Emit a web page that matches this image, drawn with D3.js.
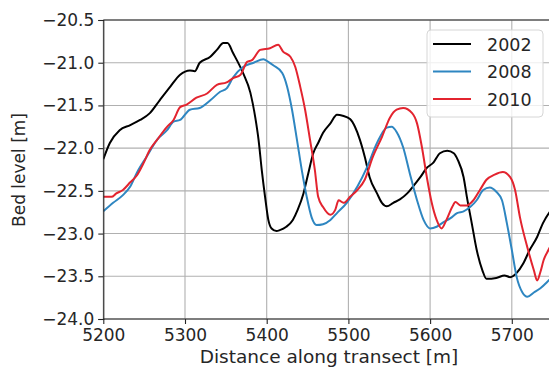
<!DOCTYPE html>
<html>
<head>
<meta charset="utf-8">
<script src="https://cdn.jsdelivr.net/npm/d3@7"></script>
<style>
  body { margin: 0; background: #fff; }
  text { font-family: "DejaVu Sans", sans-serif; fill: #262626; }
</style>
</head>
<body>
<svg class="BedChart" width="549" height="369"></svg>
<script>
// distance along transect [m] and bed level [m]
var dist2002 = [5200, 5208, 5220, 5233, 5245, 5257, 5269, 5282, 5294, 5306, 5312, 5318, 5331, 5339, 5347, 5352, 5359, 5371, 5380, 5386, 5390, 5394, 5398, 5402, 5406, 5412, 5416, 5424, 5432, 5438, 5445, 5451, 5457, 5463, 5469, 5478, 5486, 5493, 5502, 5508, 5514, 5520, 5526, 5535, 5541, 5547, 5555, 5563, 5572, 5579, 5588, 5596, 5604, 5612, 5621, 5629, 5634, 5641, 5645, 5651, 5657, 5664, 5669, 5681, 5691, 5698, 5706, 5714, 5722, 5731, 5738, 5750];
var bed2002 = [-22.13, -21.94, -21.79, -21.73, -21.67, -21.59, -21.44, -21.28, -21.14, -21.09, -21.1, -21.0, -20.93, -20.85, -20.77, -20.77, -20.89, -21.12, -21.35, -21.64, -21.9, -22.26, -22.57, -22.84, -22.94, -22.97, -22.96, -22.92, -22.84, -22.72, -22.53, -22.29, -22.06, -21.94, -21.82, -21.71, -21.61, -21.62, -21.66, -21.75, -21.9, -22.1, -22.34, -22.53, -22.64, -22.68, -22.64, -22.6, -22.53, -22.45, -22.34, -22.23, -22.17, -22.06, -22.03, -22.06, -22.14, -22.34, -22.57, -22.88, -23.19, -23.43, -23.53, -23.52, -23.49, -23.51, -23.46, -23.35, -23.19, -23.04, -22.88, -22.7];

var dist2008 = [5200, 5212, 5224, 5233, 5241, 5253, 5266, 5278, 5286, 5294, 5306, 5318, 5331, 5343, 5351, 5359, 5371, 5384, 5396, 5402, 5408, 5419, 5425, 5431, 5437, 5443, 5449, 5455, 5461, 5469, 5478, 5486, 5498, 5511, 5523, 5535, 5547, 5553, 5559, 5567, 5575, 5584, 5592, 5600, 5608, 5616, 5625, 5633, 5641, 5649, 5657, 5665, 5673, 5681, 5688, 5694, 5700, 5706, 5713, 5719, 5727, 5735, 5743, 5750];
var bed2008 = [-22.74, -22.64, -22.55, -22.45, -22.29, -22.1, -21.9, -21.79, -21.69, -21.67, -21.55, -21.53, -21.44, -21.34, -21.3, -21.17, -21.05, -21.0, -20.96, -20.99, -21.03, -21.12, -21.28, -21.55, -21.9, -22.26, -22.57, -22.81, -22.9, -22.89, -22.84, -22.76, -22.64, -22.45, -22.22, -21.94, -21.76, -21.75, -21.81, -21.99, -22.29, -22.61, -22.84, -22.94, -22.92, -22.87, -22.82, -22.76, -22.74, -22.69, -22.61, -22.49, -22.46, -22.51, -22.61, -22.88, -23.19, -23.51, -23.69, -23.74, -23.69, -23.64, -23.57, -23.5];

var dist2010 = [5200, 5210, 5216, 5224, 5233, 5241, 5249, 5257, 5266, 5278, 5286, 5294, 5302, 5314, 5327, 5339, 5351, 5359, 5368, 5376, 5382, 5392, 5404, 5414, 5420, 5429, 5435, 5441, 5447, 5453, 5459, 5463, 5469, 5478, 5484, 5488, 5494, 5502, 5511, 5520, 5530, 5541, 5551, 5559, 5567, 5578, 5584, 5590, 5596, 5602, 5608, 5614, 5620, 5627, 5631, 5637, 5645, 5653, 5661, 5669, 5679, 5689, 5698, 5704, 5710, 5719, 5727, 5731, 5735, 5739, 5745, 5750];
var bed2010 = [-22.57, -22.57, -22.53, -22.49, -22.4, -22.32, -22.18, -22.02, -21.9, -21.75, -21.67, -21.52, -21.49, -21.41, -21.36, -21.26, -21.23, -21.18, -21.14, -20.99, -20.97, -20.85, -20.83, -20.79, -20.87, -20.93, -21.05, -21.28, -21.55, -21.9, -22.26, -22.57, -22.69, -22.78, -22.72, -22.61, -22.64, -22.57, -22.49, -22.37, -22.1, -21.87, -21.64, -21.55, -21.53, -21.59, -21.71, -21.99, -22.34, -22.64, -22.84, -22.94, -22.84, -22.69, -22.63, -22.67, -22.67, -22.61, -22.49, -22.37, -22.31, -22.28, -22.34, -22.49, -22.81, -23.16, -23.43, -23.55, -23.45, -23.31, -23.19, -23.1];

var years = ["2002", "2008", "2010"];
var colors = ["#000000", "#2e86c1", "#e3242f"];
var xTicks = [5200, 5300, 5400, 5500, 5600, 5700];
var yTicks = [-20.5, -21.0, -21.5, -22.0, -22.5, -23.0, -23.5, -24.0];

function zipSeries(xs, ys) {
    return xs.map((d, i) => ({ dist: d, bed: ys[i] }));
}

var series = [
    zipSeries(dist2002, bed2002),
    zipSeries(dist2008, bed2008),
    zipSeries(dist2010, bed2010)
];

var meta = {};
meta['left'] = 103.3;
meta['top'] = 20;
meta['bottom'] = 319;

var svg = d3.select(".BedChart");

const xScale = d3.scaleLinear()
    .domain([5200, 5750])
    .range([meta['left'], meta['left'] + 81.7 * 5.5]);

const yScale = d3.scaleLinear()
    .domain([-20.5, -24.0])
    .range([meta['top'], meta['bottom']]);

var fmtY = d => d3.format(".1f")(d).replace("-", "\u2212");

svg.append('defs').append('clipPath')
    .attr('id', 'plotClip')
    .append('rect')
    .attr('x', xScale(5200))
    .attr('y', meta['top'])
    .attr('width', xScale(5750) - xScale(5200))
    .attr('height', meta['bottom'] - meta['top']);

// grid
var grid = svg.append('g').attr('class', 'grid');
grid.selectAll('.vgrid')
    .data(xTicks)
    .enter().append('line')
    .attr('x1', d => xScale(d)).attr('x2', d => xScale(d))
    .attr('y1', meta['top']).attr('y2', meta['bottom'])
    .attr('stroke', '#b0b0b0').attr('stroke-width', 1.1);
grid.selectAll('.hgrid')
    .data(yTicks)
    .enter().append('line')
    .attr('x1', xScale(5200)).attr('x2', xScale(5750))
    .attr('y1', d => yScale(d)).attr('y2', d => yScale(d))
    .attr('stroke', '#b0b0b0').attr('stroke-width', 1.1);

// lines
var line = d3.line()
    .x(d => xScale(d.dist))
    .y(d => yScale(d.bed))
    .curve(d3.curveMonotoneX);

svg.append('g')
    .attr('clip-path', 'url(#plotClip)')
    .selectAll('.line')
    .data(series)
    .enter().append('path')
    .attr('class', 'line')
    .attr('d', line)
    .attr('fill', 'none')
    .attr('stroke', (d, i) => colors[i])
    .attr('stroke-width', 2)
    .attr('stroke-linejoin', 'round');

// axes
var xAxis = svg.append('g')
    .attr('transform', `translate(0, ${meta['bottom']})`)
    .call(d3.axisBottom(xScale).tickValues(xTicks).tickSize(5).tickPadding(5).tickFormat(d3.format("d")));
var yAxis = svg.append('g')
    .attr('transform', `translate(${meta['left']}, 0)`)
    .call(d3.axisLeft(yScale).tickValues(yTicks).tickSize(5).tickPadding(4).tickFormat(fmtY));

[xAxis, yAxis].forEach(a => {
    a.select('.domain').attr('stroke', '#262626').attr('stroke-width', 1.1);
    a.selectAll('.tick line').attr('stroke', '#262626').attr('stroke-width', 1.1);
    a.selectAll('.tick text')
        .attr('fill', '#262626')
        .style('font-family', '"DejaVu Sans", sans-serif')
        .style('font-size', '17px');
});
xAxis.select('.domain').attr('d', `M${xScale(5200)},0H${xScale(5750)}`);

// top spine
svg.append('line')
    .attr('x1', xScale(5200)).attr('x2', xScale(5750))
    .attr('y1', meta['top']).attr('y2', meta['top'])
    .attr('stroke', '#262626').attr('stroke-width', 1.1);

// axis labels
svg.append('text')
    .attr('x', 329)
    .attr('y', 363)
    .attr('text-anchor', 'middle')
    .style('font-size', '18.5px')
    .text("Distance along transect [m]");

svg.append('text')
    .attr('transform', 'rotate(-90)')
    .attr('x', -170)
    .attr('y', 25)
    .attr('text-anchor', 'middle')
    .style('font-size', '17px')
    .text("Bed level [m]");

// legend
var legend = svg.append('g').attr('class', 'legend');
legend.append('rect')
    .attr('x', 427).attr('y', 30)
    .attr('width', 116).attr('height', 87)
    .attr('rx', 4)
    .attr('fill', 'rgba(255,255,255,0.8)')
    .attr('stroke', '#d6d6d6');
years.forEach((y, i) => {
    var cy = 44 + i * 27.5;
    legend.append('line')
        .attr('x1', 433).attr('x2', 471)
        .attr('y1', cy).attr('y2', cy)
        .attr('stroke', colors[i]).attr('stroke-width', 2);
    legend.append('text')
        .attr('x', 487).attr('y', cy + 6.5)
        .style('font-size', '17.5px')
        .text(y);
});
</script>
</body>
</html>
